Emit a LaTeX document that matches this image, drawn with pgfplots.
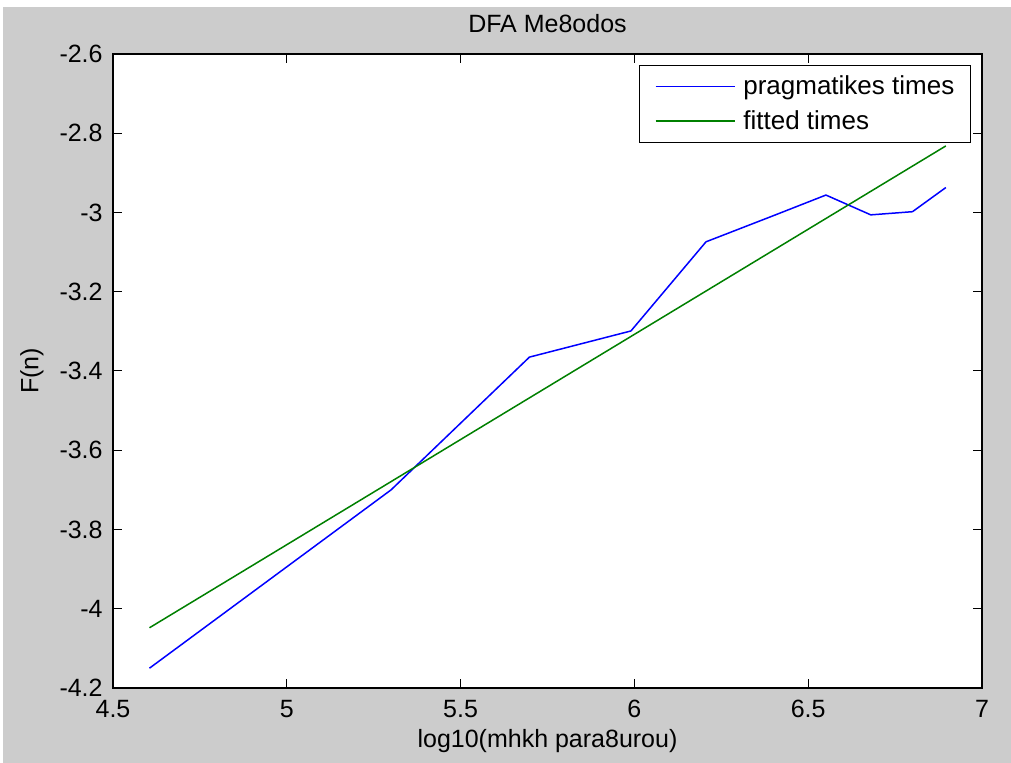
\documentclass[border=0pt]{standalone}
\usepackage{fontspec}
\setmainfont{Liberation Sans}
\usepackage{pgfplots}
\pgfplotsset{compat=1.18}
\definecolor{figgray}{gray}{0.8}
\definecolor{mgreen}{rgb}{0,0.5,0}

\begin{document}
\begin{tikzpicture}
\useasboundingbox (0,0) rectangle (505.5pt,381.5pt);
\fill[white] (0,0) rectangle (505.5pt,381.5pt);
\fill[figgray] (1.5pt,0) rectangle (505.5pt,378pt);
\begin{axis}[
    at={(56.5pt,37.5pt)}, anchor=south west,
    scale only axis, width=434.5pt, height=317pt,
    xmin=4.5, xmax=7, ymin=-4.2, ymax=-2.6,
    xtick={4.5,5,5.5,6,6.5,7},
    ytick={-4.2,-4,-3.8,-3.6,-3.4,-3.2,-3,-2.8,-2.6},
    xticklabel pos=lower, yticklabel pos=left,
    tick pos=both,
    tick align=inside, major tick length=4.5pt,
    axis background/.style={fill=white},
    axis line style={black, line width=0.7pt},
    every tick/.style={black, line width=0.5pt},
    /pgf/number format/assume math mode=true,
    font=\fontsize{12.5}{15}\selectfont,
    xticklabel style={anchor=north, inner sep=0pt, yshift=-6pt},
    yticklabel style={anchor=east, inner sep=0pt, xshift=-5pt},
    title={DFA Me8odos},
    title style={at={(0.5,1.0284)}, anchor=center, inner sep=0pt},
    xlabel={log10(mhkh para8urou)},
    xlabel style={at={(0.5,-0.0836)}, anchor=center, inner sep=0pt},
    ylabel={F(n)},
    ylabel style={at={(-0.0932,0.5)}, anchor=center, inner sep=0pt},
    legend style={at={(0.987,0.9826)}, anchor=north east,
        inner xsep=6pt, inner ysep=3pt, row sep=2.5pt, column sep=2pt,
        font=\fontsize{13}{15.5}\selectfont},
    legend cell align=left,
    legend image code/.code={\path (-1.5pt,0pt); \draw[#1] (0pt,0pt) -- (39.5pt,0pt);},
]
\addplot[color=blue, line width=0.75pt] coordinates {
    (4.605,-4.150) (5.300,-3.700) (5.698,-3.365) (5.990,-3.299)
    (6.206,-3.074) (6.400,-3.008) (6.551,-2.956) (6.680,-3.006)
    (6.800,-2.998) (6.896,-2.937)
};
\addlegendentry{pragmatikes times}
\addplot[color=mgreen, line width=0.75pt] coordinates {
    (4.605,-4.048) (6.896,-2.832)
};
\addlegendentry{fitted times}
\end{axis}
\end{tikzpicture}
\end{document}
